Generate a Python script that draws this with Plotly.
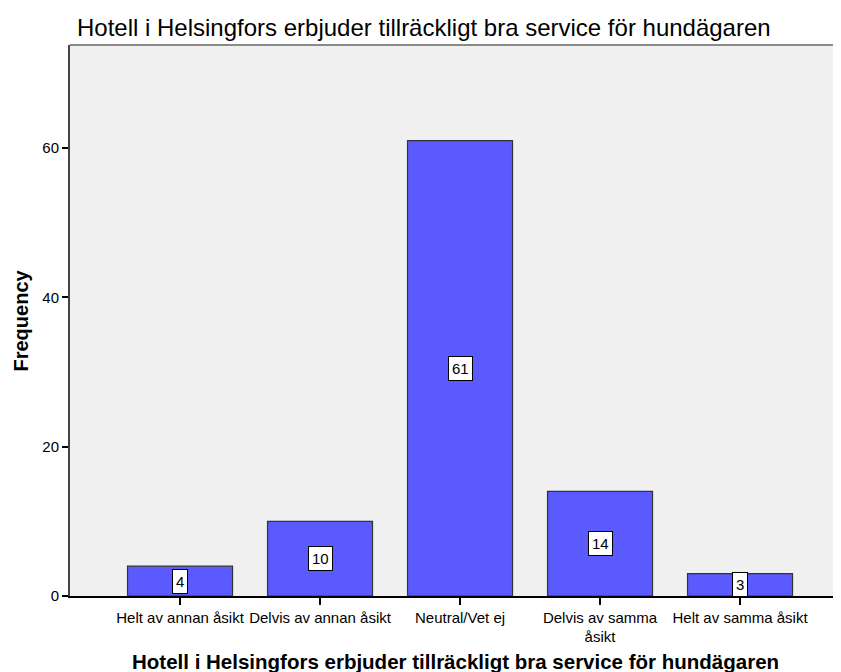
import plotly.graph_objects as go

categories = ["Helt av annan åsikt", "Delvis av annan åsikt", "Neutral/Vet ej",
              "Delvis av samma<br>åsikt", "Helt av samma åsikt"]
frequencies = [4, 10, 61, 14, 3]
y_ticks = [0, 20, 40, 60]

title_text = "Hotell i Helsingfors erbjuder tillräckligt bra service för hundägaren"

# the page body has an 8px margin, so the figure is sized to fill the rest of the window
W, H = 833, 664
ml, mr, mt, mb = 62, 0, 37, 76
pw = W - ml - mr
ph = H - mt - mb

xs = list(range(len(categories)))

fig = go.Figure()
fig.add_trace(go.Bar(
    x=xs, y=frequencies, width=0.75,
    marker=dict(color="#5a5aff", line=dict(color="#333333", width=1.2)),
    hoverinfo="skip",
))

for xi, v in zip(xs, frequencies):
    fig.add_annotation(
        x=xi, y=v / 2, xref="x", yref="y", text=str(v), showarrow=False,
        font=dict(family="Arial", size=15, color="black"),
        bgcolor="white", bordercolor="black", borderwidth=1, borderpad=3,
    )

# x-axis title (bold)
fig.add_annotation(
    x=0.5, y=-65 / ph, xref="paper", yref="paper",
    text="<b>" + title_text + "</b>", showarrow=False,
    font=dict(family="Arial", size=20.5, color="black"),
    xanchor="center", yanchor="middle",
)
# y-axis title
fig.add_annotation(
    x=(12 - ml) / pw, y=0.5, xref="paper", yref="paper",
    text="<b>Frequency</b>", showarrow=False, textangle=-90,
    font=dict(family="Arial", size=20, color="black"),
    xanchor="center", yanchor="middle",
)

# top border of the plot frame
fig.add_shape(type="line", xref="paper", yref="paper", x0=0, x1=1, y0=1, y1=1,
              line=dict(color="#8a8a8a", width=2))

fig.update_layout(
    width=W, height=H,
    margin=dict(l=ml, r=mr, t=mt, b=mb),
    paper_bgcolor="white", plot_bgcolor="#f0f0f0",
    showlegend=False,
    title=dict(text=title_text, x=69 / W, y=1 - 20 / H, xref="container", yref="container",
               xanchor="left", yanchor="middle",
               font=dict(family="Arial", size=24, color="black")),
    xaxis=dict(
        range=[-0.786, -0.786 + pw / 140], tickmode="array", tickvals=xs, ticktext=categories,
        showgrid=False, zeroline=False, showline=True, linecolor="black", linewidth=1.5,
        ticks="outside", ticklen=7, tickcolor="black", tickwidth=1.5,
        tickfont=dict(family="Arial", size=15, color="black"), fixedrange=True,
    ),
    yaxis=dict(
        range=[0, 73.8], tickmode="array", tickvals=y_ticks,
        showgrid=False, zeroline=False, showline=True, linecolor="#444444", linewidth=2,
        ticks="outside", ticklen=6, tickcolor="black", tickwidth=1.5,
        tickfont=dict(family="Arial", size=15, color="black"), fixedrange=True,
    ),
    bargap=0.25,
)

fig.write_html("out.html")
